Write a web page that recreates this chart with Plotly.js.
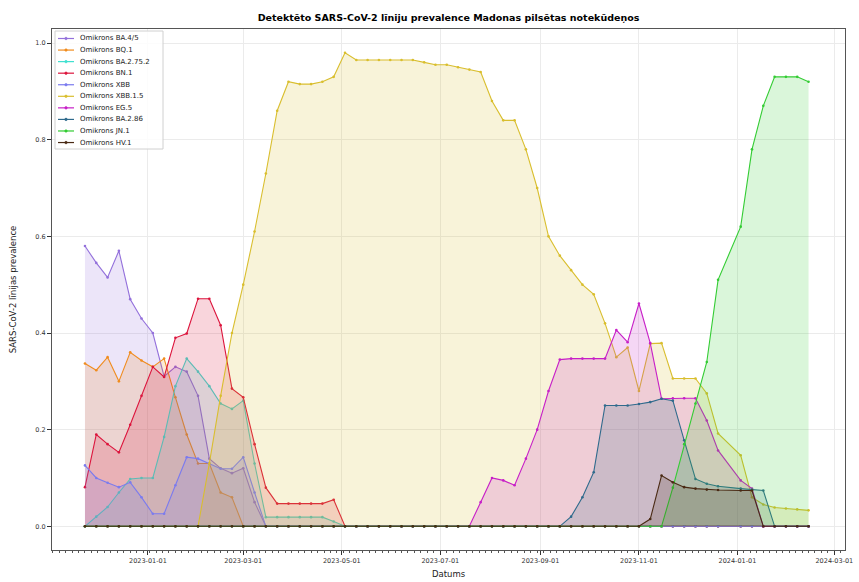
<!DOCTYPE html>
<html><head><meta charset="utf-8">
<script src="https://cdn.plot.ly/plotly-3.0.1.min.js"></script>
<style>html,body{margin:0;padding:0;background:#fff}#chart{width:859px;height:582px}</style>
</head><body><div id="chart"></div>
<script>
const dates = [
 '2022-11-23','2022-11-30','2022-12-07','2022-12-14','2022-12-21','2022-12-28','2023-01-04','2023-01-11','2023-01-18','2023-01-25',
 '2023-02-01','2023-02-08','2023-02-15','2023-02-22','2023-03-01','2023-03-08','2023-03-15','2023-03-22','2023-03-29','2023-04-05',
 '2023-04-12','2023-04-19','2023-04-26','2023-05-03','2023-05-10','2023-05-17','2023-05-24','2023-05-31','2023-06-07','2023-06-14',
 '2023-06-21','2023-06-28','2023-07-05','2023-07-12','2023-07-19','2023-07-26','2023-08-02','2023-08-09','2023-08-16','2023-08-23',
 '2023-08-30','2023-09-06','2023-09-13','2023-09-20','2023-09-27','2023-10-04','2023-10-11','2023-10-18','2023-10-25','2023-11-01',
 '2023-11-08','2023-11-15','2023-11-22','2023-11-29','2023-12-06','2023-12-13','2023-12-20',
 '2024-01-03','2024-01-10','2024-01-17','2024-01-24','2024-01-31','2024-02-07','2024-02-14'];

const seriesNames = ['Omikrons BA.4/5','Omikrons BQ.1','Omikrons BA.2.75.2','Omikrons BN.1','Omikrons XBB',
 'Omikrons XBB.1.5','Omikrons EG.5','Omikrons BA.2.86','Omikrons JN.1','Omikrons HV.1'];

const ba45 = [.58,.545,.515,.57,.47,.43,.40,.31,.33,.32,
 .27,.14,.12,.11,.12,.05,0,0,0,0,
 0,0,0,0,0,0,0,0,0,0,
 0,0,0,0,0,0,0,0,0,0,
 0,0,0,0,0,0,0,0,0,0,
 0,0,0,0,0,0,0,
 0,0,0,0,0,0,0];
const bq1 = [.337,.323,.35,.30,.36,.343,.33,.347,.267,.19,
 .13,.13,.07,.06,0,0,0,0,0,0,
 0,0,0,0,0,0,0,0,0,0,
 0,0,0,0,0,0,0,0,0,0,
 0,0,0,0,0,0,0,0,0,0,
 0,0,0,0,0,0,0,
 0,0,0,0,0,0,0];
const ba2752 = [0,.02,.04,.07,.098,.10,.10,.185,.29,.347,
 .32,.29,.254,.243,.26,.13,.019,.019,.019,.019,
 .019,.019,.01,0,0,0,0,0,0,0,
 0,0,0,0,0,0,0,0,0,0,
 0,0,0,0,0,0,0,0,0,0,
 0,0,0,0,0,0,0,
 0,0,0,0,0,0,0];
const bn1 = [.081,.19,.17,.153,.21,.27,.33,.309,.39,.399,
 .471,.471,.416,.285,.267,.17,.08,.047,.047,.047,
 .047,.047,.055,0,0,0,0,0,0,0,
 0,0,0,0,0,0,0,0,0,0,
 0,0,0,0,0,0,0,0,0,0,
 0,0,0,0,0,0,0,
 0,0,0,0,0,0,0];
const xbb = [.126,.10,.09,.081,.091,.06,.026,.026,.085,.143,
 .14,.13,.119,.119,.143,.07,0,0,0,0,
 0,0,0,0,0,0,0,0,0,0,
 0,0,0,0,0,0,0,0,0,0,
 0,0,0,0,0,0,0,0,0,0,
 0,0,0,0,0,0,0,
 0,0,0,0,0,0,0];
const xbb15 = [0,0,0,0,0,0,0,0,0,0,
 0,.13,.27,.40,.50,.61,.73,.86,.92,.915,
 .915,.92,.93,.98,.965,.965,.965,.965,.965,.965,
 .96,.955,.955,.95,.945,.94,.88,.84,.84,.78,
 .70,.60,.56,.53,.50,.48,.42,.35,.37,.28,
 .378,.379,.306,.306,.306,.275,.192,
 .147,.06,.045,.039,.037,.035,.033];
const eg5 = [0,0,0,0,0,0,0,0,0,0,
 0,0,0,0,0,0,0,0,0,0,
 0,0,0,0,0,0,0,0,0,0,
 0,0,0,0,0,.05,.10,.095,.085,.14,
 .20,.28,.345,.347,.347,.347,.347,.406,.381,.461,
 .379,.264,.265,.265,.265,.219,.157,
 .095,.078,0,0,0,0,0];
const ba286 = [0,0,0,0,0,0,0,0,0,0,
 0,0,0,0,0,0,0,0,0,0,
 0,0,0,0,0,0,0,0,0,0,
 0,0,0,0,0,0,0,0,0,0,
 0,0,0,.02,.06,.112,.25,.25,.25,.253,
 .257,.264,.26,.178,.098,.088,.083,
 .078,.076,.074,0,0,0,0];
const jn1 = [0,0,0,0,0,0,0,0,0,0,
 0,0,0,0,0,0,0,0,0,0,
 0,0,0,0,0,0,0,0,0,0,
 0,0,0,0,0,0,0,0,0,0,
 0,0,0,0,0,0,0,0,0,0,
 0,0,.08,.17,.254,.34,.51,
 .62,.78,.87,.93,.93,.93,.92];
const hv1 = [0,0,0,0,0,0,0,0,0,0,
 0,0,0,0,0,0,0,0,0,0,
 0,0,0,0,0,0,0,0,0,0,
 0,0,0,0,0,0,0,0,0,0,
 0,0,0,0,0,0,0,0,0,0,
 .015,.105,.091,.081,.078,.076,.075,
 .074,.074,0,0,0,0,0];

const yTickVals = [0,0.2,0.4,0.6,0.8,1.0];
const titleText = 'Detektēto SARS-CoV-2 līniju prevalence Madonas pilsētas notekūdeņos';
const xTitle = 'Datums';
const yTitle = 'SARS-CoV-2 līnijas prevalence';

const seriesValues = [ba45,bq1,ba2752,bn1,xbb,xbb15,eg5,ba286,jn1,hv1];
const seriesColors = ['#9370DB','#F08C1E','#40E0D0','#DC143C','#7B7BEE','#D9BE2E','#C71FC7','#2F6A8C','#33CC33','#4A2A14'];

function rgba(hex,a){const n=parseInt(hex.slice(1),16);return `rgba(${(n>>16)&255},${(n>>8)&255},${n&255},${a})`;}

const traces = seriesValues.map((vals,i)=>({
  type:'scatter', mode:'lines+markers', x:dates, y:vals, name:seriesNames[i],
  line:{color:seriesColors[i], width:1.1},
  marker:{color:seriesColors[i], size:2.6},
  fill:'tozeroy', fillcolor:rgba(seriesColors[i],0.18),
  showlegend:false, hoverinfo:'skip'
}));

const L=52,R=845,T=29,B=550;
const px2x=p=>(p-L)/(R-L), py2y=p=>(B-p)/(B-T);
const shapes=[], annotations=[];
shapes.push({type:'rect',xref:'paper',yref:'paper',x0:px2x(55),x1:px2x(163),y0:py2y(149),y1:py2y(31),
  line:{color:'#d0d0d0',width:1},fillcolor:'rgba(255,255,255,0.85)',layer:'above'});
seriesNames.forEach((nm,i)=>{
  const yy=38.5+11.56*i;
  shapes.push({type:'line',xref:'paper',yref:'paper',x0:px2x(58),x1:px2x(74),y0:py2y(yy),y1:py2y(yy),
    line:{color:seriesColors[i],width:1.2},layer:'above'});
  shapes.push({type:'circle',xref:'paper',yref:'paper',x0:px2x(64.7),x1:px2x(67.3),y0:py2y(yy+1.3),y1:py2y(yy-1.3),
    line:{color:seriesColors[i],width:0.5},fillcolor:seriesColors[i],layer:'above'});
  annotations.push({xref:'paper',yref:'paper',x:px2x(78),y:py2y(yy),text:nm,showarrow:false,
    xanchor:'left',yanchor:'middle',font:{family:'DejaVu Sans',size:7,color:'#222'}});
});

const layout = {
  width:859, height:582,
  margin:{l:L,r:859-R,t:T,b:582-B,pad:0},
  paper_bgcolor:'#fff', plot_bgcolor:'#fff',
  font:{family:'DejaVu Sans',color:'#222'},
  title:{text:'<b>'+titleText+'</b>', font:{family:'DejaVu Sans',size:9.5,color:'#000'},
    x:0.5, xref:'paper', y:1-18/582, yref:'container', yanchor:'middle'},
  xaxis:{type:'date', range:['2022-11-02 14:00','2024-03-07 14:00'],
    tick0:'2023-01-01', dtick:'M2', tickformat:'%Y-%m-%d',
    ticks:'outside', ticklen:4, tickcolor:'#333', tickwidth:1,
    tickfont:{family:'DejaVu Sans',size:6.5,color:'#333'},
    showgrid:true, gridcolor:'#ebebeb', gridwidth:1,
    showline:true, mirror:true, linecolor:'#555', linewidth:1, zeroline:false,
    minor:{ticks:'outside', ticklen:2, tickcolor:'#555', dtick:4*86400000, tick0:'2022-11-03', showgrid:false},
    title:{text:xTitle, font:{family:'DejaVu Sans',size:8.5,color:'#222'}, standoff:7}},
  yaxis:{range:[-0.049,1.029], tickvals:yTickVals, tickformat:'.1f',
    ticks:'outside', ticklen:4, tickcolor:'#333', tickwidth:1,
    tickfont:{family:'DejaVu Sans',size:6.5,color:'#333'},
    showgrid:true, gridcolor:'#ebebeb', gridwidth:1,
    showline:true, mirror:true, linecolor:'#555', linewidth:1, zeroline:false,
    title:{text:yTitle, font:{family:'DejaVu Sans',size:8.5,color:'#222'}, standoff:17}},
  shapes:shapes, annotations:annotations, showlegend:false
};

Plotly.newPlot('chart', traces, layout, {displayModeBar:false, staticPlot:true});
</script></body></html>
